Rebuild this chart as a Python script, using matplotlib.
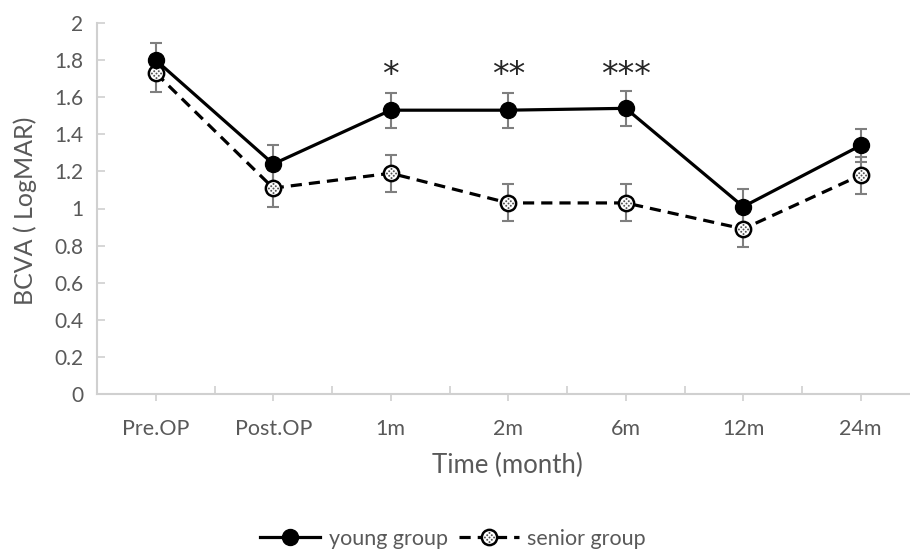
import matplotlib
matplotlib.use("Agg")
import matplotlib.pyplot as plt
import numpy as np
from matplotlib.path import Path

plt.rcParams['font.family'] = ['Lato', 'DejaVu Sans']

times = ["Pre.OP", "Post.OP", "1m", "2m", "6m", "12m", "24m"]
young = [1.80, 1.24, 1.53, 1.53, 1.54, 1.01, 1.34]
young_err = [0.09, 0.10, 0.095, 0.095, 0.095, 0.095, 0.09]
senior = [1.73, 1.11, 1.19, 1.03, 1.03, 0.89, 1.18]
senior_err = [0.10, 0.10, 0.10, 0.10, 0.10, 0.10, 0.10]
stars = {2: "*", 3: "**", 4: "***"}
star_y = 1.63

grey = "#595959"
axis_grey = "#d0d0d0"

# dotted fill for the senior markers
dots = []
for i in range(-2, 3):
    for j in range(-2, 3):
        if (i + j) % 2 == 0 and (i * i + j * j) <= 5:
            c = Path.circle((i * 0.3, j * 0.3), 0.13)
            dots.append(c)
dot_marker = Path.make_compound_path(*dots)

fig = plt.figure(figsize=(9.1, 5.49), dpi=100)
ax = fig.add_axes([97 / 910, 155 / 549, 822.5 / 910, 371 / 549])
x = np.arange(len(times))

ax.errorbar(x, young, yerr=young_err, fmt="none", ecolor="#7f7f7f",
            elinewidth=1.5, capsize=4.5, capthick=1.5, zorder=2)
ax.errorbar(x, senior, yerr=senior_err, fmt="none", ecolor="#7f7f7f",
            elinewidth=1.5, capsize=4.5, capthick=1.5, zorder=2)
ax.plot(x, young, color="black", lw=2.3, marker="o", ms=11.5,
        mfc="black", mec="black", label="young group", zorder=4)
ax.plot(x, senior, color="black", lw=2.3, ls=(0, (3.5, 2.2)), marker="o",
        ms=11, mfc="white", mec="black", mew=1.8, zorder=3)
ax.plot(x, senior, ls="none", marker=dot_marker, ms=8, mfc="#555555",
        mec="none", zorder=3.5)

for i, s in stars.items():
    ax.text(x[i], star_y, s, ha="center", va="bottom", fontsize=24,
            color="#262626", family="DejaVu Sans")

ax.set_xlim(-0.5, len(times) - 0.5)
ax.set_ylim(0, 2)
ax.set_yticks(np.arange(0, 2.01, 0.2))
ax.set_yticklabels(["0", "0.2", "0.4", "0.6", "0.8", "1", "1.2", "1.4", "1.6", "1.8", "2"])
ax.set_xticks(x)
ax.set_xticklabels(times)
ax.set_xticks(np.arange(0.5, len(times) - 0.5, 1), minor=True)

for side in ["top", "right"]:
    ax.spines[side].set_visible(False)
for side in ["left", "bottom"]:
    ax.spines[side].set_color(axis_grey)
    ax.spines[side].set_linewidth(1.5)

ax.tick_params(axis="y", direction="in", length=6, width=1.2, color=axis_grey,
               labelcolor=grey, labelsize=15, pad=10)
ax.tick_params(axis="x", which="major", direction="out", length=5, width=1.2,
               color=axis_grey, labelcolor=grey, labelsize=15.5, pad=13)
ax.tick_params(axis="x", which="minor", direction="in", length=6, width=1.2,
               color=axis_grey)

fig.text(25 / 910, 1 - 211 / 549, "BCVA ( LogMAR)", ha="center", va="center",
         rotation=90, color=grey, fontsize=18)
fig.text(507 / 910, 1 - 465 / 549, "Time (month)", ha="center", va="center",
         color=grey, fontsize=18.5)

young_h = plt.Line2D([], [], color="black", lw=2.3, marker="o", ms=11.5,
                     mfc="black", mec="black")
senior_h = plt.Line2D([], [], color="black", lw=2.3, ls=(0, (3.5, 2.2)),
                      marker="o", ms=11, mfc="white", mec="black", mew=1.8)
senior_dots = plt.Line2D([], [], ls="none", marker=dot_marker, ms=8,
                         mfc="#555555", mec="none")
fig.legend([young_h, (senior_h, senior_dots)], ["young group", "senior group"],
           loc="center", bbox_to_anchor=(453 / 910, 1 - 539 / 549), ncol=2,
           frameon=False, fontsize=15.5, labelcolor=grey, handlelength=2.8,
           columnspacing=0.5, handletextpad=0.4)

fig.savefig("out.png", dpi=100)
